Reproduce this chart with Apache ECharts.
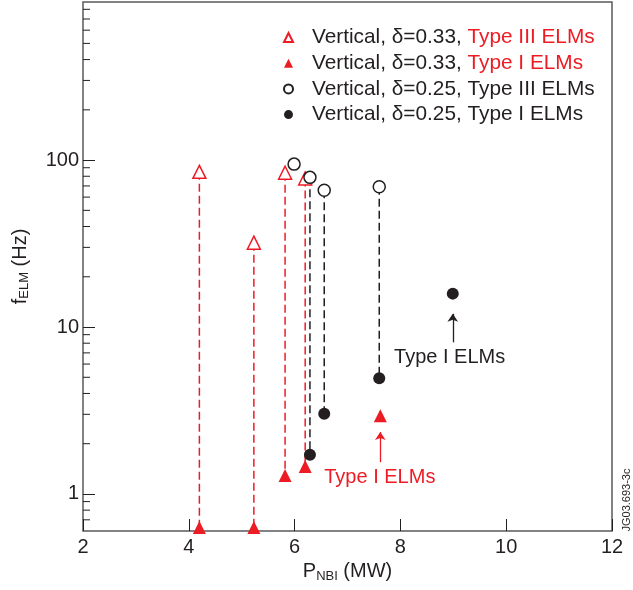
<!DOCTYPE html>
<html>
<head>
<meta charset="utf-8">
<script src="https://cdn.jsdelivr.net/npm/echarts@6/dist/echarts.min.js"></script>
<style>
html,body{margin:0;padding:0;background:#fff;}
#chart{width:633px;height:590px;}
</style>
</head>
<body>
<div id="chart"></div>
<script>
// ---- data ----
const seriesNames = [
  'Vertical, δ=0.33, Type III ELMs',
  'Vertical, δ=0.33, Type I ELMs',
  'Vertical, δ=0.25, Type III ELMs',
  'Vertical, δ=0.25, Type I ELMs'
];
const redOpenX = [4.2, 5.23, 5.82, 6.2];
const redOpenY = [85, 32, 84, 77.6];
const redFilledX = [4.2, 5.23, 5.82, 6.2, 7.62];
const redFilledY = [0.63, 0.63, 1.29, 1.46, 2.94];
const blackOpenX = [5.99, 6.29, 6.56, 7.6];
const blackOpenY = [94.6, 78.8, 66, 69.2];
const blackFilledX = [6.29, 6.56, 7.6, 8.99];
const blackFilledY = [1.72, 3.02, 4.94, 15.85];

const xMin = 2, xMax = 12, xStep = 2;
const yMin = 0.6, yMax = 885;
const yMajorLabels = [1, 10, 100];
const yMinorTicks = [0.7, 0.8, 0.9, 2, 3, 4, 5, 6, 7, 8, 9, 20, 30, 40, 50, 60, 70, 80, 90, 200, 300, 400, 500, 600, 700, 800];

// annotations: [x, y]
const blackArrow = [[8.99, 8.1], [8.99, 12.0]];
const redArrow = [[7.62, 1.55], [7.62, 2.35]];
const blackNote = [7.88, 6.53, 'Type I ELMs'];
const redNote = [6.56, 1.258, 'Type I ELMs'];
const watermark = 'JG03.693-3c';

// ---- styles ----
const RED = '#ed1c24';
const INK = '#231f20';
const FONT = '"Liberation Sans", Arial, Helvetica, sans-serif';
const TRI = 'path://M5,0 L10,10 L0,10 Z';

const zip = (xs, ys) => xs.map((x, i) => [x, ys[i]]);

function links(openX, openY, fillX, fillY, color) {
  const out = [];
  openX.forEach((x, i) => {
    const j = fillX.indexOf(x);
    if (j >= 0) {
      out.push({
        type: 'line', data: [[x, openY[i]], [x, fillY[j]]],
        symbol: 'none', silent: true, z: 1,
        lineStyle: { color: color, width: 1.5, type: [8, 4] }
      });
    }
  });
  return out;
}

const chart = echarts.init(document.getElementById('chart'), null, { renderer: 'canvas' });

const option = {
  animation: false,
  backgroundColor: '#fff',
  grid: {
    left: 83, right: 21, top: 2, bottom: 59,
    show: true, borderColor: '#58595b', borderWidth: 1.5,
    containLabel: false, outerBoundsMode: 'none'
  },
  legend: {
    data: [
      { name: seriesNames[0], icon: TRI },
      { name: seriesNames[1], icon: TRI },
      { name: seriesNames[2], icon: 'circle' },
      { name: seriesNames[3], icon: 'circle' }
    ],
    orient: 'vertical',
    left: 283, top: 26.5, padding: 0,
    itemWidth: 37, itemHeight: 9, itemGap: 3.7,
    symbolKeepAspect: true,
    selectedMode: false,
    formatter: function (name) {
      const k = name.indexOf('Type');
      const head = name.slice(0, k), tail = name.slice(k);
      const red = name.indexOf('0.33') >= 0;
      return '{k|' + head + '}{' + (red ? 'r' : 'k') + '|' + tail + '}';
    },
    textStyle: {
      fontFamily: FONT, fontSize: 20.8, color: INK, lineHeight: 22,
      rich: {
        k: { fontFamily: FONT, fontSize: 20.8, color: INK, lineHeight: 22 },
        r: { fontFamily: FONT, fontSize: 20.8, color: RED, lineHeight: 22 }
      }
    }
  },
  xAxis: {
    type: 'value', min: xMin, max: xMax, interval: xStep,
    name: 'P{s|NBI} (MW)', nameLocation: 'middle', nameGap: 28,
    nameTextStyle: {
      fontFamily: FONT, fontSize: 20, color: INK,
      rich: { s: { fontFamily: FONT, fontSize: 13, color: INK, verticalAlign: 'bottom', padding: [9, 0, 0, 0] } }
    },
    axisLine: { show: false },
    axisTick: { show: true, inside: true, length: 12, lineStyle: { color: INK, width: 1 } },
    axisLabel: { fontFamily: FONT, fontSize: 20, color: INK, margin: 6 },
    splitLine: { show: false }
  },
  yAxis: {
    type: 'log', logBase: 10, min: yMin, max: yMax,
    name: 'f{s|ELM} (Hz)', nameLocation: 'middle', nameGap: 52, nameRotate: 90,
    nameTextStyle: {
      fontFamily: FONT, fontSize: 20, color: INK,
      rich: { s: { fontFamily: FONT, fontSize: 13, color: INK, verticalAlign: 'bottom', padding: [9, 0, 0, 0] } }
    },
    axisLine: { show: false },
    axisTick: { show: true, inside: true, length: 12, lineStyle: { color: INK, width: 1 } },
    axisLabel: {
      fontFamily: FONT, fontSize: 20, color: INK, margin: 4,
      showMinLabel: false, showMaxLabel: false,
      formatter: function (v) {
        const m = yMajorLabels.find(t => Math.abs(t - v) / t < 1e-6);
        return m === undefined ? '' : String(m);
      }
    },
    splitLine: { show: false }
  },
  graphic: [{
    type: 'text', x: 627, y: 500, rotation: Math.PI / 2,
    style: { text: watermark, fontFamily: FONT, fontSize: 11, fill: INK, align: 'center', verticalAlign: 'middle' }
  }],
  series: [].concat(
    links(redOpenX, redOpenY, redFilledX, redFilledY, RED),
    links(blackOpenX, blackOpenY, blackFilledX, blackFilledY, INK),
    [
      {
        type: 'custom', silent: true, clip: false, z: 4,
        data: yMinorTicks.map(v => [xMin, v]),
        renderItem: function (params, api) {
          const p = api.coord([api.value(0), api.value(1)]);
          return { type: 'line', shape: { x1: p[0], y1: p[1], x2: p[0] + 7, y2: p[1] }, style: { stroke: INK, lineWidth: 1 } };
        }
      },
      {
        name: seriesNames[1], type: 'scatter', z: 3, symbol: 'triangle', symbolSize: 13,
        itemStyle: { color: RED, borderWidth: 0, opacity: 1 },
        data: zip(redFilledX, redFilledY)
      },
      {
        name: seriesNames[0], type: 'scatter', z: 3, symbol: 'triangle', symbolSize: 13,
        itemStyle: { color: '#fff', borderColor: RED, borderWidth: 1.5, opacity: 1 },
        data: zip(redOpenX, redOpenY)
      },
      {
        name: seriesNames[3], type: 'scatter', z: 3, symbol: 'circle', symbolSize: 12,
        itemStyle: { color: INK, borderWidth: 0, opacity: 1 },
        data: zip(blackFilledX, blackFilledY)
      },
      {
        name: seriesNames[2], type: 'scatter', z: 3, symbol: 'circle', symbolSize: 12,
        itemStyle: { color: '#fff', borderColor: INK, borderWidth: 1.5, opacity: 1 },
        data: zip(blackOpenX, blackOpenY)
      },
      {
        type: 'scatter', silent: true, z: 5, symbolSize: 0,
        itemStyle: { opacity: 1 },
        data: [
          { value: [blackNote[0], blackNote[1]], label: { color: INK, formatter: blackNote[2] } },
          { value: [redNote[0], redNote[1]], label: { color: RED, formatter: redNote[2] } }
        ],
        label: { show: true, position: 'right', distance: 0, fontFamily: FONT, fontSize: 20, opacity: 1 },
        markLine: {
          silent: true, animation: false, symbol: ['none', 'arrow'], symbolSize: 8,
          label: { show: false },
          data: [
            [{ coord: blackArrow[0], lineStyle: { color: INK, width: 1.3, type: 'solid', opacity: 1 } }, { coord: blackArrow[1] }],
            [{ coord: redArrow[0], lineStyle: { color: RED, width: 1.3, type: 'solid', opacity: 1 } }, { coord: redArrow[1] }]
          ]
        }
      }
    ]
  )
};
chart.setOption(option);
</script>
</body>
</html>
